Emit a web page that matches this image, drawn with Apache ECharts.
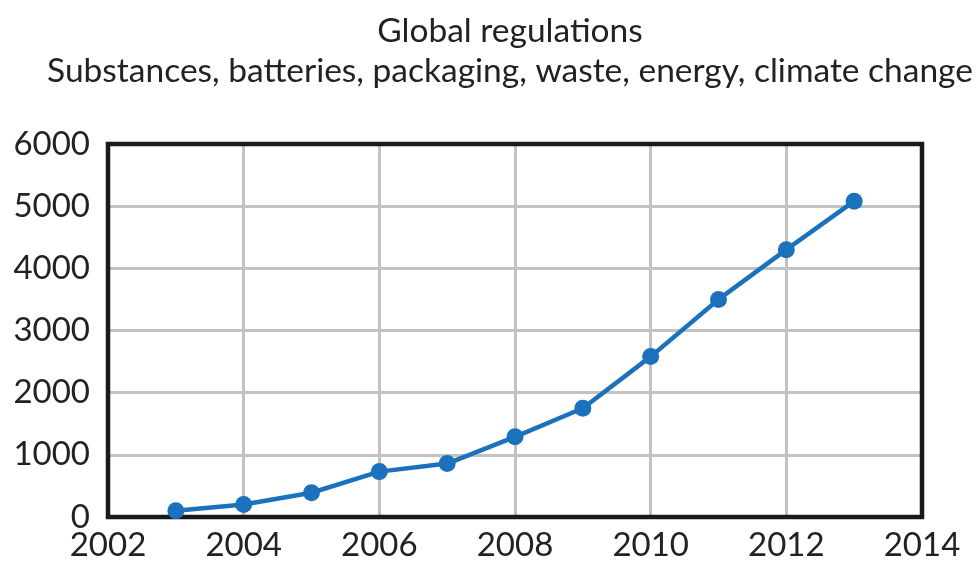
<!DOCTYPE html>
<html>
<head>
<meta charset="utf-8">
<script src="https://cdn.jsdelivr.net/npm/echarts@6/dist/echarts.min.js"></script>
<style>
	html, body { margin: 0; padding: 0; background: #fff; }
	#chart { width: 976px; height: 571px; }
</style>
</head>
<body>
<div id="chart"></div>
<script>
// data
const years = [2003, 2004, 2005, 2006, 2007, 2008, 2009, 2010, 2011, 2012, 2013];
const regulations = [100, 200, 390, 730, 860, 1290, 1750, 2580, 3500, 4300, 5080];
const titleText = "Global regulations";
const subtitleText = "Substances, batteries, packaging, waste, energy, climate change";

const font = "Lato";
const myChart = echarts.init(document.getElementById("chart"));

myChart.setOption({
	animation: false,
	title: {
		text: titleText,
		subtext: subtitleText,
		left: 505,
		textAlign: "center",
		top: 9,
		itemGap: 6,
		textStyle: { fontFamily: font, fontSize: 33.5, fontWeight: "normal", color: "#222" },
		subtextStyle: { fontFamily: font, fontSize: 33.5, color: "#222" },
	},
	grid: {
		left: 108,
		top: 144,
		right: 54,
		bottom: 54,
		show: true,
		borderColor: "#1a1a1a",
		borderWidth: 4.5,
		backgroundColor: "transparent",
		z: 3,
	},
	xAxis: {
		type: "value",
		min: 2002,
		max: 2014,
		interval: 2,
		axisLine: { show: false },
		axisTick: { show: false },
		axisLabel: {
			fontFamily: font,
			fontSize: 33,
			color: "#222",
			margin: 12,
			formatter: (v) => String(v),
		},
		splitLine: { showMinLine: false, showMaxLine: false, lineStyle: { color: "#c2c2c2", width: 3 } },
	},
	yAxis: {
		type: "value",
		min: 0,
		max: 6000,
		interval: 1000,
		axisLine: { show: false },
		axisTick: { show: false },
		axisLabel: { fontFamily: font, fontSize: 33, color: "#222", margin: 18, formatter: (v) => String(v) },
		splitLine: { showMinLine: false, showMaxLine: false, lineStyle: { color: "#c2c2c2", width: 3 } },
	},
	series: [
		{
			type: "line",
			data: years.map((y, i) => [y, regulations[i]]),
			symbol: "circle",
			symbolSize: 17,
			lineStyle: { color: "#1c71bd", width: 4.5 },
			itemStyle: { color: "#1c71bd" },
			z: 5,
		},
	],
});
</script>
</body>
</html>
